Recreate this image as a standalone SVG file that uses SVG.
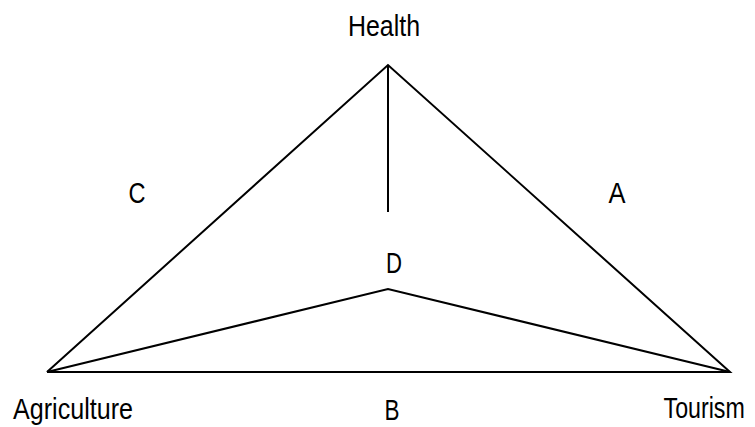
<svg xmlns="http://www.w3.org/2000/svg" width="755" height="427" viewBox="0 0 755 427">
<style>
.ln{stroke:#000;stroke-width:2;fill:none;stroke-linejoin:miter}
.t{font-family:"Liberation Sans",Arial,sans-serif;font-size:29px;fill:#000;text-anchor:middle}
</style>
<rect width="755" height="427" fill="#fff"/>
<g id="connectors">
<polyline class="ln" points="47,372 388,65 730,372 47,372"/>
<line class="ln" x1="388" y1="65" x2="388" y2="212"/>
<polyline class="ln" points="47,372 388,289 730,372"/>
</g>
<g id="health"><text class="t" x="384" y="36" textLength="72" lengthAdjust="spacingAndGlyphs">Health</text></g>
<g id="agriculture"><text class="t" x="73" y="419" textLength="120" lengthAdjust="spacingAndGlyphs">Agriculture</text></g>
<g id="tourism"><text class="t" transform="scale(0.8,1)" x="931" y="418" style="text-anchor:end">Tourism</text></g>
<g id="labelC"><text class="t" x="137" y="203" textLength="17" lengthAdjust="spacingAndGlyphs">C</text></g>
<g id="labelA"><text class="t" x="617" y="203" textLength="17" lengthAdjust="spacingAndGlyphs">A</text></g>
<g id="labelD"><text class="t" x="394" y="273" textLength="16" lengthAdjust="spacingAndGlyphs">D</text></g>
<g id="labelB"><text class="t" x="392" y="420" textLength="15" lengthAdjust="spacingAndGlyphs">B</text></g>
</svg>
